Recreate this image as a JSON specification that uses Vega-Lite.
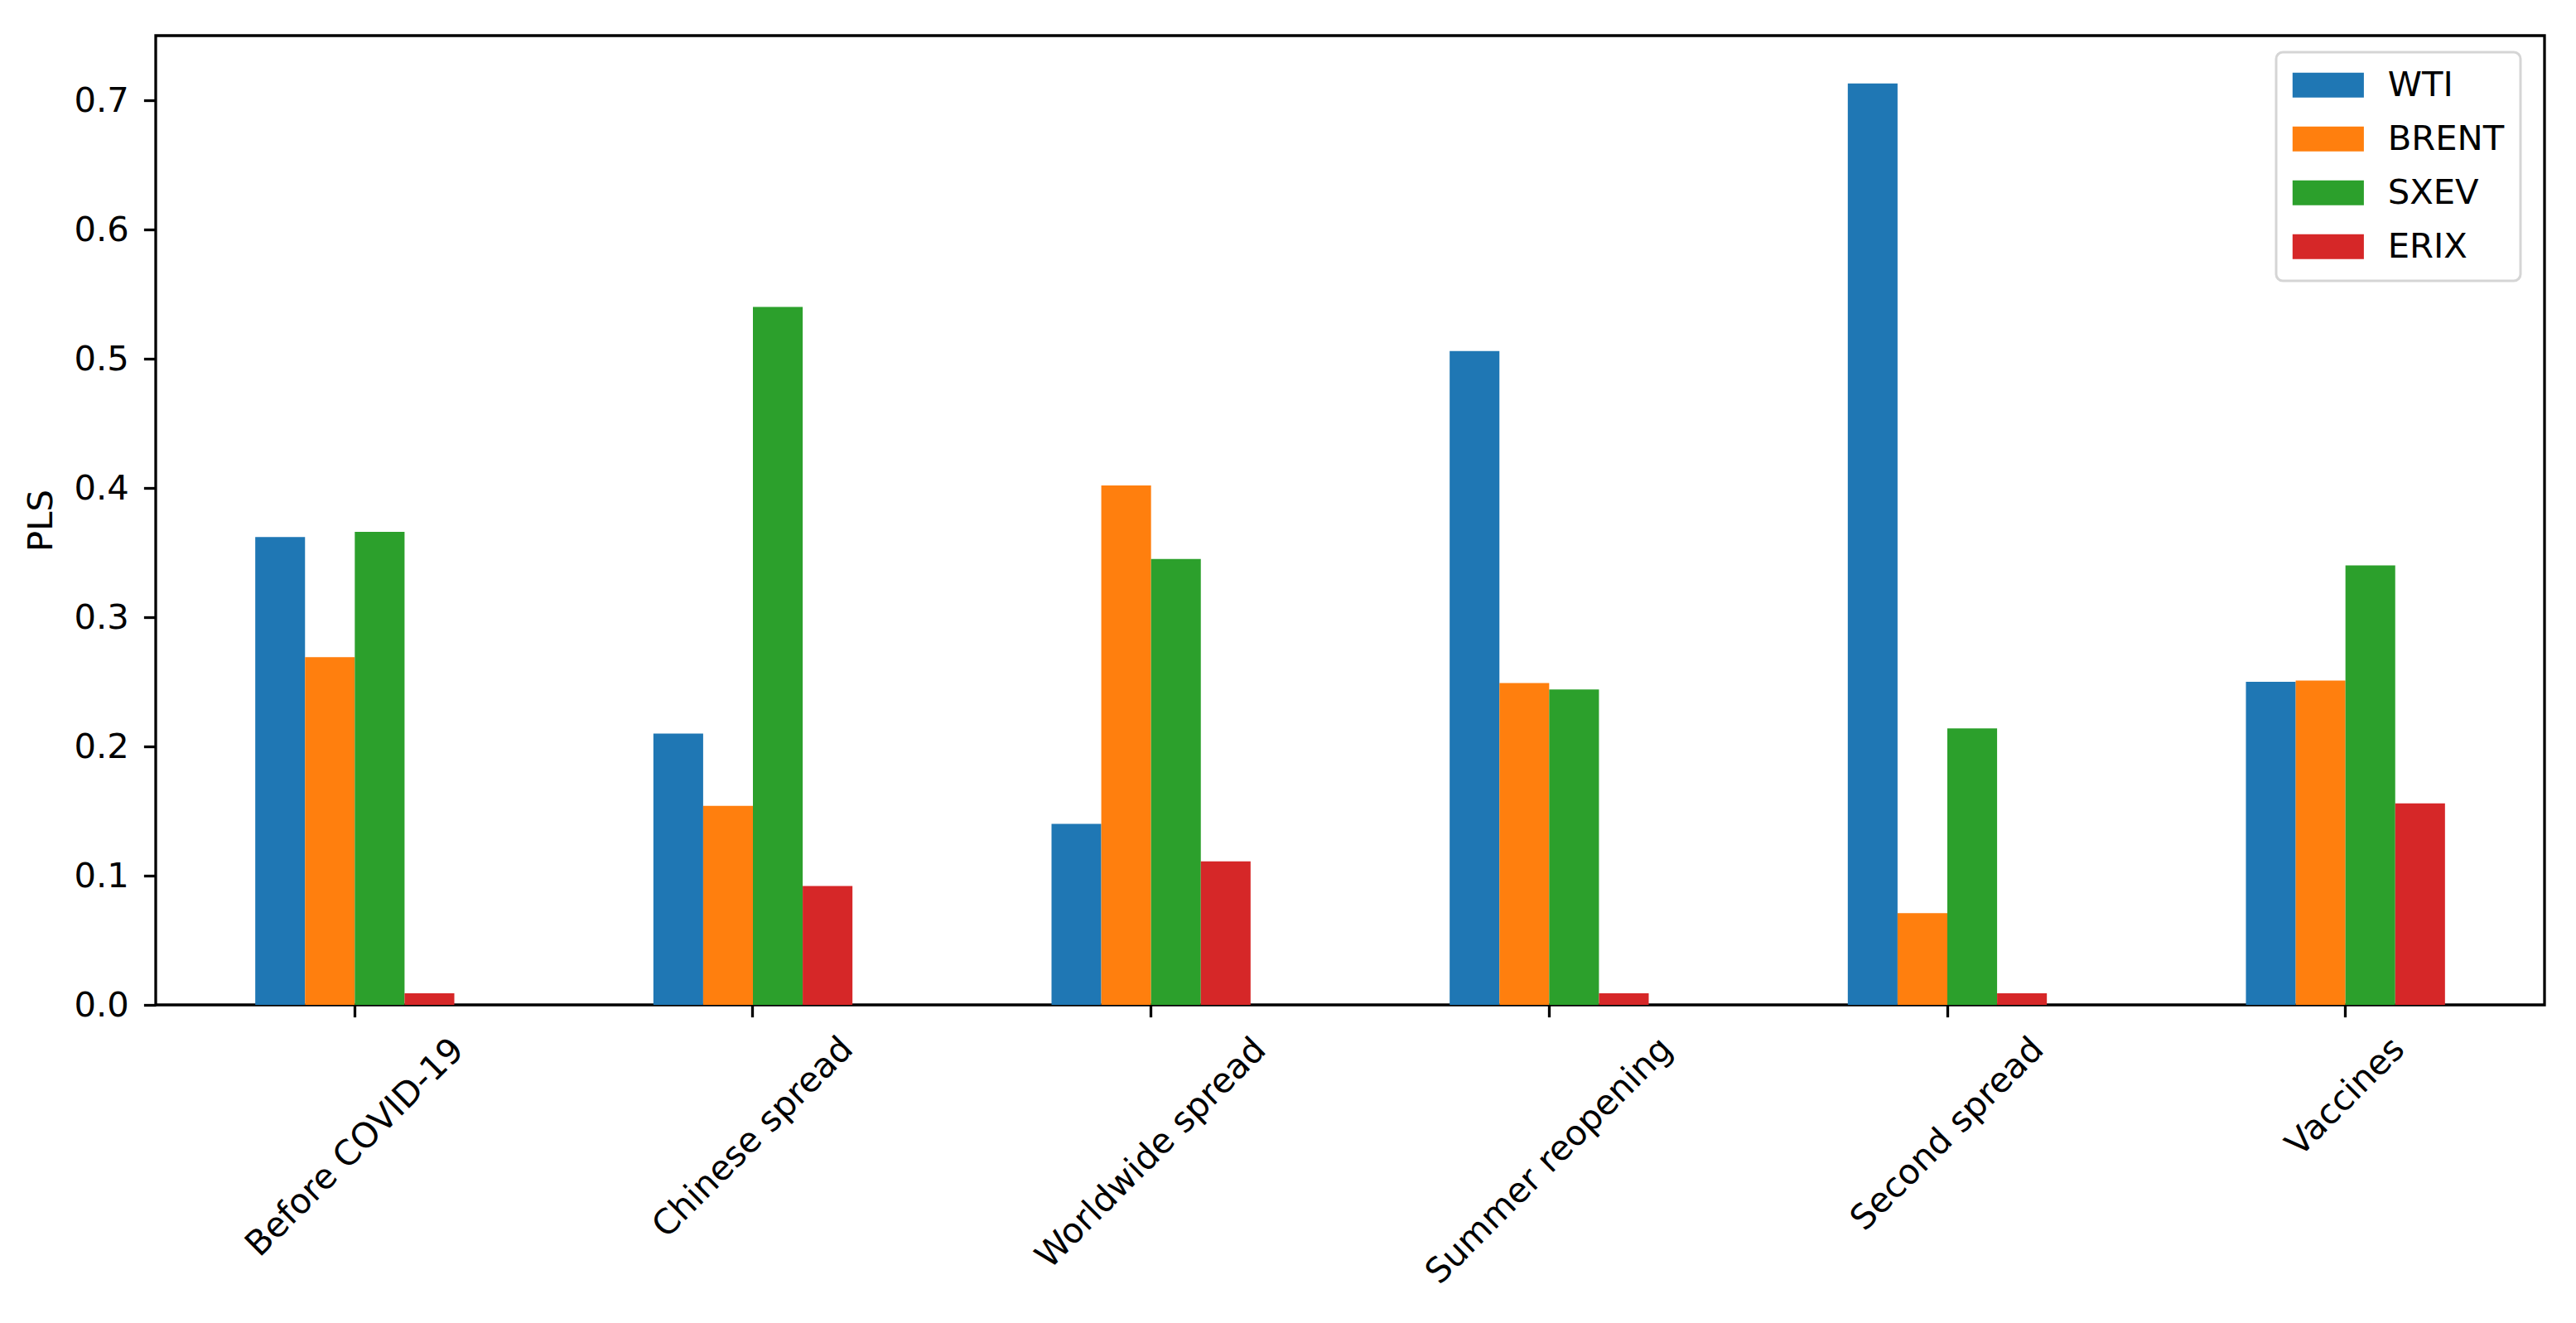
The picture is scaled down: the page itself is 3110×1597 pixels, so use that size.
{
  "$schema": "https://vega.github.io/schema/vega-lite/v6.json",
  "width": 2884,
  "height": 1170,
  "autosize": {"type": "none"},
  "padding": {"left": 188, "top": 43, "right": 38, "bottom": 384},
  "background": "white",
  "data": {
    "values": [
      {"period": "Before COVID-19", "series": "WTI", "value": 0.362},
      {"period": "Before COVID-19", "series": "BRENT", "value": 0.269},
      {"period": "Before COVID-19", "series": "SXEV", "value": 0.366},
      {"period": "Before COVID-19", "series": "ERIX", "value": 0.009},
      {"period": "Chinese spread", "series": "WTI", "value": 0.210},
      {"period": "Chinese spread", "series": "BRENT", "value": 0.154},
      {"period": "Chinese spread", "series": "SXEV", "value": 0.540},
      {"period": "Chinese spread", "series": "ERIX", "value": 0.092},
      {"period": "Worldwide spread", "series": "WTI", "value": 0.140},
      {"period": "Worldwide spread", "series": "BRENT", "value": 0.402},
      {"period": "Worldwide spread", "series": "SXEV", "value": 0.345},
      {"period": "Worldwide spread", "series": "ERIX", "value": 0.111},
      {"period": "Summer reopening", "series": "WTI", "value": 0.506},
      {"period": "Summer reopening", "series": "BRENT", "value": 0.249},
      {"period": "Summer reopening", "series": "SXEV", "value": 0.244},
      {"period": "Summer reopening", "series": "ERIX", "value": 0.009},
      {"period": "Second spread", "series": "WTI", "value": 0.713},
      {"period": "Second spread", "series": "BRENT", "value": 0.071},
      {"period": "Second spread", "series": "SXEV", "value": 0.214},
      {"period": "Second spread", "series": "ERIX", "value": 0.009},
      {"period": "Vaccines", "series": "WTI", "value": 0.250},
      {"period": "Vaccines", "series": "BRENT", "value": 0.251},
      {"period": "Vaccines", "series": "SXEV", "value": 0.340},
      {"period": "Vaccines", "series": "ERIX", "value": 0.156}
    ]
  },
  "mark": {"type": "bar", "strokeWidth": 0},
  "encoding": {
    "x": {
      "field": "period",
      "type": "nominal",
      "sort": ["Before COVID-19", "Chinese spread", "Worldwide spread", "Summer reopening", "Second spread", "Vaccines"],
      "scale": {"paddingInner": 0.5, "paddingOuter": 0.25},
      "title": null,
      "axis": {
        "domain": false,
        "tickSize": 14.6,
        "tickWidth": 3.3,
        "tickColor": "black",
        "labelAngle": -45,
        "labelAlign": "center",
        "labelBaseline": "middle",
        "labelLimit": 2000,
        "labelOverlap": false,
        "labelBound": false,
        "labelFlush": false,
        "labelPadding": {
          "condition": [
            {"test": "datum.label == 'Before COVID-19'", "value": 157},
            {"test": "datum.label == 'Chinese spread'", "value": 145},
            {"test": "datum.label == 'Worldwide spread'", "value": 164},
            {"test": "datum.label == 'Summer reopening'", "value": 173},
            {"test": "datum.label == 'Second spread'", "value": 141}
          ],
          "value": 96
        }
      }
    },
    "xOffset": {
      "field": "series",
      "type": "nominal",
      "sort": ["WTI", "BRENT", "SXEV", "ERIX"],
      "scale": {"paddingInner": 0, "paddingOuter": 0}
    },
    "y": {
      "field": "value",
      "type": "quantitative",
      "scale": {"domain": [0, 0.75], "nice": false},
      "title": "PLS",
      "axis": {
        "domain": false,
        "grid": false,
        "values": [0, 0.1, 0.2, 0.3, 0.4, 0.5, 0.6, 0.7],
        "format": ".1f",
        "tickSize": 14.6,
        "tickWidth": 3.3,
        "tickColor": "black",
        "labelPadding": 18,
        "titlePadding": 18
      }
    },
    "color": {
      "field": "series",
      "type": "nominal",
      "sort": ["WTI", "BRENT", "SXEV", "ERIX"],
      "scale": {
        "domain": ["WTI", "BRENT", "SXEV", "ERIX"],
        "range": ["#1f77b4", "#ff7f0e", "#2ca02c", "#d62728"]
      },
      "legend": {
        "title": null,
        "orient": "none",
        "legendX": 2560,
        "legendY": 20,
        "padding": 19,
        "strokeColor": "#d5d5d5",
        "fillColor": "white",
        "cornerRadius": 8,
        "symbolType": "M-2.87,-1H2.87V1H-2.87Z",
        "symbolSize": 900,
        "symbolStrokeWidth": 0,
        "symbolOpacity": 1,
        "symbolOffset": 23,
        "labelOffset": 51,
        "rowPadding": 22,
        "labelFontSize": 41.7,
        "labelColor": "black",
        "labelFont": "DejaVu Sans"
      }
    }
  },
  "config": {
    "font": "DejaVu Sans",
    "view": {"stroke": "black", "strokeWidth": 3.3},
    "axis": {
      "labelFont": "DejaVu Sans",
      "labelFontSize": 41.7,
      "labelColor": "black",
      "titleFont": "DejaVu Sans",
      "titleFontSize": 41.7,
      "titleFontWeight": "normal",
      "titleColor": "black"
    },
    "legend": {"strokeWidth": 3}
  }
}
